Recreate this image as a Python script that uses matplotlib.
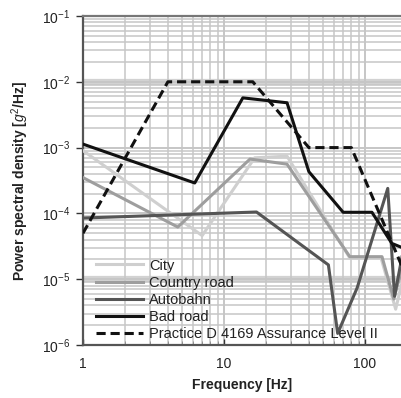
import matplotlib
matplotlib.use("Agg")
import matplotlib.pyplot as plt
from matplotlib.ticker import LogLocator, FixedLocator, FixedFormatter, NullFormatter

plt.rcParams['font.family'] = ['Liberation Sans', 'DejaVu Sans']
plt.rcParams['mathtext.fontset'] = 'custom'
plt.rcParams['mathtext.rm'] = 'Liberation Sans'
plt.rcParams['mathtext.it'] = 'Liberation Sans:italic'
plt.rcParams['mathtext.bf'] = 'Liberation Sans:bold'

# --- data ---
city_f = [1, 7, 16.5, 28, 78, 130, 165, 200]
city_p = [9e-4, 4.6e-5, 7e-4, 7.4e-4, 2.1e-5, 2.1e-5, 3.5e-6, 2e-5]

country_f = [1, 4.7, 15.3, 28, 78, 132, 160, 200]
country_p = [3.5e-4, 6.2e-5, 6.7e-4, 5.6e-4, 2.2e-5, 2.2e-5, 5e-6, 3e-5]

autobahn_f = [1, 17, 55, 64, 88, 145, 162, 200]
autobahn_p = [8.5e-5, 1.05e-4, 1.65e-5, 1.5e-6, 7.4e-6, 2.4e-4, 5.5e-6, 6e-5]

badroad_f = [1, 6.2, 13.6, 28, 40, 70, 112, 155, 200]
badroad_p = [1.13e-3, 2.9e-4, 5.7e-3, 4.8e-3, 4.3e-4, 1.04e-4, 1.04e-4, 3.5e-5, 2.8e-5]

astm_f = [1, 4, 16, 40, 80, 200]
astm_p = [5e-5, 1e-2, 1e-2, 1e-3, 1e-3, 1e-5]

labels = ["City", "Country road", "Autobahn", "Bad road",
          "Practice D 4169 Assurance Level II"]

xticks = [1, 10, 100]
xticklabels = ["1", "10", "100"]
yticks = [1e-6, 1e-5, 1e-4, 1e-3, 1e-2, 1e-1]
yticklabels = [r"$\mathregular{10^{-6}}$", r"$\mathregular{10^{-5}}$",
               r"$\mathregular{10^{-4}}$", r"$\mathregular{10^{-3}}$",
               r"$\mathregular{10^{-2}}$", r"$\mathregular{10^{-1}}$"]

W, H = 401, 398
fig = plt.figure(figsize=(W / 100, H / 100), dpi=100)
ax = fig.add_axes([83 / W, (H - 345) / H, (401 - 83) / W, 329 / H])
ax.set_xscale('log')
ax.set_yscale('log')
ax.set_xlim(1, 10 ** ((401 - 83) / 141))
ax.set_ylim(1e-6, 1e-1)

gc = '#c6c6c6'
ax.grid(True, which='major', color=gc, lw=1.4)
ax.grid(True, which='minor', color=gc, lw=1.1)
ax.xaxis.set_minor_locator(LogLocator(base=10, subs=range(2, 10)))
ax.yaxis.set_minor_locator(LogLocator(base=10, subs=range(2, 10)))
ax.xaxis.set_minor_formatter(NullFormatter())
ax.yaxis.set_minor_formatter(NullFormatter())
for v in [1e-2, 1e-5]:
    ax.axhline(v, color='#d2d2d2', lw=4.5, zorder=0.5)
ax.set_axisbelow(True)

ax.plot(city_f, city_p, color='#cfcfcf', lw=2.2, label=labels[0], zorder=3)
ax.plot(country_f, country_p, color='#9e9e9e', lw=2.2, label=labels[1], zorder=3)
ax.plot(autobahn_f, autobahn_p, color='#555555', lw=2.2, label=labels[2], zorder=3)
ax.plot(badroad_f, badroad_p, color='#111111', lw=2.2, label=labels[3], zorder=4)
ax.plot(astm_f, astm_p, color='#111111', lw=2.2, ls=(0, (3, 1.6)), label=labels[4], zorder=4)

ax.xaxis.set_major_locator(FixedLocator(xticks))
ax.xaxis.set_major_formatter(FixedFormatter(xticklabels))
ax.yaxis.set_major_locator(FixedLocator(yticks))
ax.yaxis.set_major_formatter(FixedFormatter(yticklabels))
ax.tick_params(axis='both', which='major', labelsize=10, colors='#333333',
               length=4, width=1, pad=4)
ax.tick_params(axis='x', which='major', direction='in', length=4, pad=9)
ax.tick_params(axis='y', which='major', direction='out', length=5, pad=4)
ax.tick_params(axis='x', which='minor', direction='in', length=3, color='#888888')
ax.tick_params(axis='y', which='minor', length=0)
for lab in ax.get_xticklabels() + ax.get_yticklabels():
    lab.set_color('#222222')

ax.spines['right'].set_visible(False)
for s in ['left', 'bottom', 'top']:
    ax.spines[s].set_color('#555555')
    ax.spines[s].set_linewidth(1.6)
ax.spines['top'].set_color('#777777')

ax.set_xlabel("Frequency [Hz]", fontsize=10, fontweight='bold', color='#222222', labelpad=5)
ax.set_ylabel(r"Power spectral density [$\mathit{g}^{2}$/Hz]", fontsize=10,
              fontweight='bold', color='#222222', labelpad=8)

leg = ax.legend(loc='lower left', bbox_to_anchor=(0.01, -0.02), frameon=False,
                fontsize=10.5, handlelength=3.2, handletextpad=0.4,
                labelspacing=0.22, borderaxespad=0.3)
for t in leg.get_texts():
    t.set_color('#222222')

fig.savefig("out.png", dpi=100)
